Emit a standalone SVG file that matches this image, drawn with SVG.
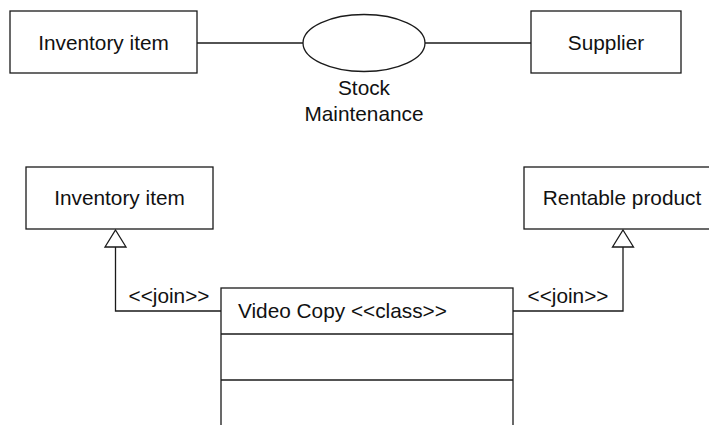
<svg xmlns="http://www.w3.org/2000/svg" width="709" height="425" viewBox="0 0 709 425">
<style>
.box{fill:#fff;stroke:#1a1a1a;stroke-width:1.3}
.ln{fill:none;stroke:#1a1a1a;stroke-width:1.3}
text{font-family:"Liberation Sans",Arial,sans-serif;font-size:20.8px;fill:#111}
.c{text-anchor:middle}
</style>
<defs>
<marker id="tri" viewBox="0 0 22 18" refX="11" refY="0" markerWidth="22" markerHeight="18" markerUnits="userSpaceOnUse" orient="auto-start-reverse">
<path d="M11,0 L21.5,17 L0.5,17 Z" fill="#fff" stroke="#1a1a1a" stroke-width="1.3"/>
</marker>
</defs>
<g id="connectors">
<line class="ln" x1="197" y1="43" x2="303" y2="43"/>
<line class="ln" x1="425" y1="43" x2="531" y2="43"/>
<path class="ln" d="M221,311 H115.5 V247"/>
<path d="M115.5,230 L126,247 L105,247 Z" fill="#fff" stroke="#1a1a1a" stroke-width="1.3"/>
<text x="169" y="303" class="c">&lt;&lt;join&gt;&gt;</text>
<path class="ln" d="M513,311 H623 V247"/>
<path d="M623,230 L633.5,247 L612.5,247 Z" fill="#fff" stroke="#1a1a1a" stroke-width="1.3"/>
<text x="568" y="303" class="c">&lt;&lt;join&gt;&gt;</text>
</g>
<g id="inventory-top">
<rect class="box" x="10" y="11" width="187" height="62"/>
<text x="103.5" y="50" class="c">Inventory item</text>
</g>
<g id="stock-maintenance">
<ellipse class="box" cx="364" cy="43" rx="61" ry="28.5"/>
<text x="364" y="95" class="c">Stock</text>
<text x="364" y="121" class="c">Maintenance</text>
</g>
<g id="supplier">
<rect class="box" x="531" y="11" width="150" height="62"/>
<text x="606" y="50" class="c">Supplier</text>
</g>
<g id="inventory-bottom">
<rect class="box" x="26" y="167" width="187" height="62"/>
<text x="119.5" y="205" class="c">Inventory item</text>
</g>
<g id="rentable-product">
<rect class="box" x="524" y="167" width="200" height="62"/>
<text x="622" y="205" class="c">Rentable product</text>
</g>
<g id="video-copy">
<rect class="box" x="221" y="288" width="292" height="150"/>
<line class="ln" x1="221" y1="334" x2="513" y2="334"/>
<line class="ln" x1="221" y1="380" x2="513" y2="380"/>
<text x="238" y="318">Video Copy &lt;&lt;class&gt;&gt;</text>
</g>
</svg>
